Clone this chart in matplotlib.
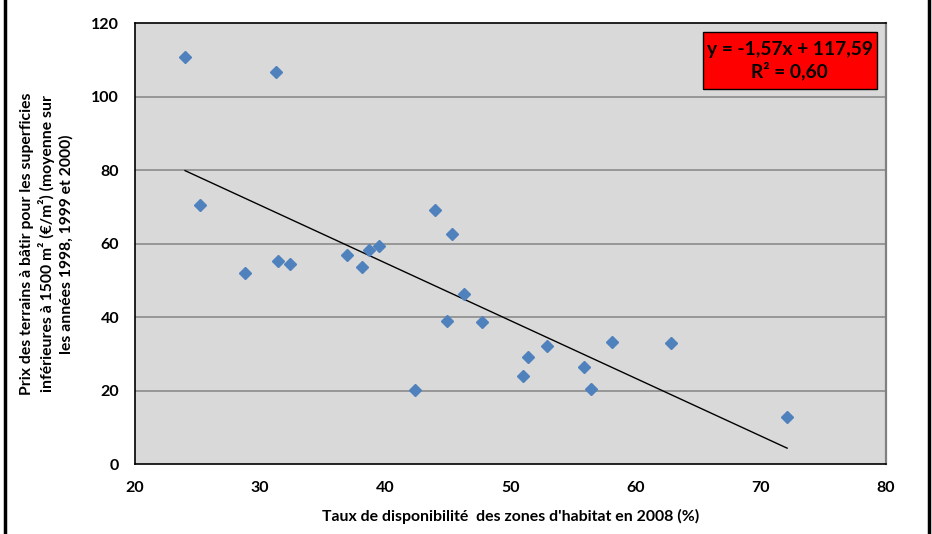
import numpy as np
import matplotlib
matplotlib.use("Agg")
import matplotlib.pyplot as plt
from matplotlib.patches import Rectangle
from matplotlib.lines import Line2D

plt.rcParams['font.family'] = ['Lato', 'DejaVu Sans']
plt.rcParams['font.weight'] = 'bold'

# taux de disponibilité (%) et prix (€/m²)
taux = [24.0, 31.3, 25.2, 28.8, 31.4, 32.4, 36.9, 38.1, 38.7, 39.5, 44.0, 45.3,
        42.4, 44.9, 46.3, 47.7, 51.4, 51.0, 52.9, 55.9, 56.4, 58.1, 62.8, 72.1]
prix = [110.9, 106.7, 70.5, 52.1, 55.2, 54.4, 57.0, 53.8, 58.4, 59.5, 69.3, 62.7,
        20.3, 39.1, 46.4, 38.7, 29.1, 24.1, 32.3, 26.6, 20.4, 33.2, 32.9, 12.8]

# droite de tendance affichée
pente = -1.57
origine = 117.59
r2 = 0.60

xticks = [20, 30, 40, 50, 60, 70, 80]
yticks = [0, 20, 40, 60, 80, 100, 120]

fig = plt.figure(figsize=(9.32, 5.34), dpi=100)
ax = fig.add_axes([135/932, 1 - 464.3/534, 751/932, 441/534])
ax.set_facecolor('#D9D9D9')

ax.set_xlim(20, 80)
ax.set_ylim(0, 120)
ax.set_xticks(xticks)
ax.set_yticks(yticks)
ax.tick_params(length=0, labelsize=11.5)
ax.tick_params(axis='y', pad=11.5)
ax.tick_params(axis='x', pad=12)

for y in yticks[1:-1]:
    ax.axhline(y, color='#8C8C8C', lw=1.2, zorder=1)

for s in ['left', 'bottom', 'top']:
    ax.spines[s].set_color('black')
    ax.spines[s].set_linewidth(1.2)
ax.spines['right'].set_color('#808080')
ax.spines['right'].set_linewidth(1.6)

# droite de tendance
xt = np.array([min(taux), max(taux)])
ax.plot(xt, pente * xt + origine, color='black', lw=1, zorder=2)

ax.plot(taux, prix, linestyle='none', marker='D', markersize=6.5,
        color='#4F81BD', zorder=3)

ax.set_xlabel("Taux de disponibilité  des zones d'habitat en 2008 (%)",
              fontsize=11.4, fontweight='bold', labelpad=10)
ax.set_ylabel("Prix des terrains à bâtir pour les superficies\n"
              "inférieures à 1500 m² (€/m²) (moyenne sur\n"
              "les années 1998, 1999 et 2000)",
              fontsize=11.3, fontweight='bold', labelpad=13, linespacing=1.3)

# encadré de l'équation
ax.add_patch(Rectangle((0.756, 0.851), 0.232, 0.129, transform=ax.transAxes,
                       facecolor='#FF0000', edgecolor='black', lw=1, zorder=4))
eq = "y = %sx + %s\nR² = %s" % (("%.2f" % pente).replace('.', ','),
                                ("%.2f" % origine).replace('.', ','),
                                ("%.2f" % r2).replace('.', ','))
ax.text(0.872, 0.915, eq, transform=ax.transAxes, ha='center', va='center',
        fontsize=13.8, fontweight='bold', linespacing=1.2, zorder=5)

# cadre extérieur
fig.add_artist(Line2D([4.5/932, 4.5/932], [0, 1], color='black', lw=2.5,
                      transform=fig.transFigure))
fig.add_artist(Line2D([929/932, 929/932], [0, 1], color='black', lw=2.5,
                      transform=fig.transFigure))

fig.savefig('out.png', dpi=100)
